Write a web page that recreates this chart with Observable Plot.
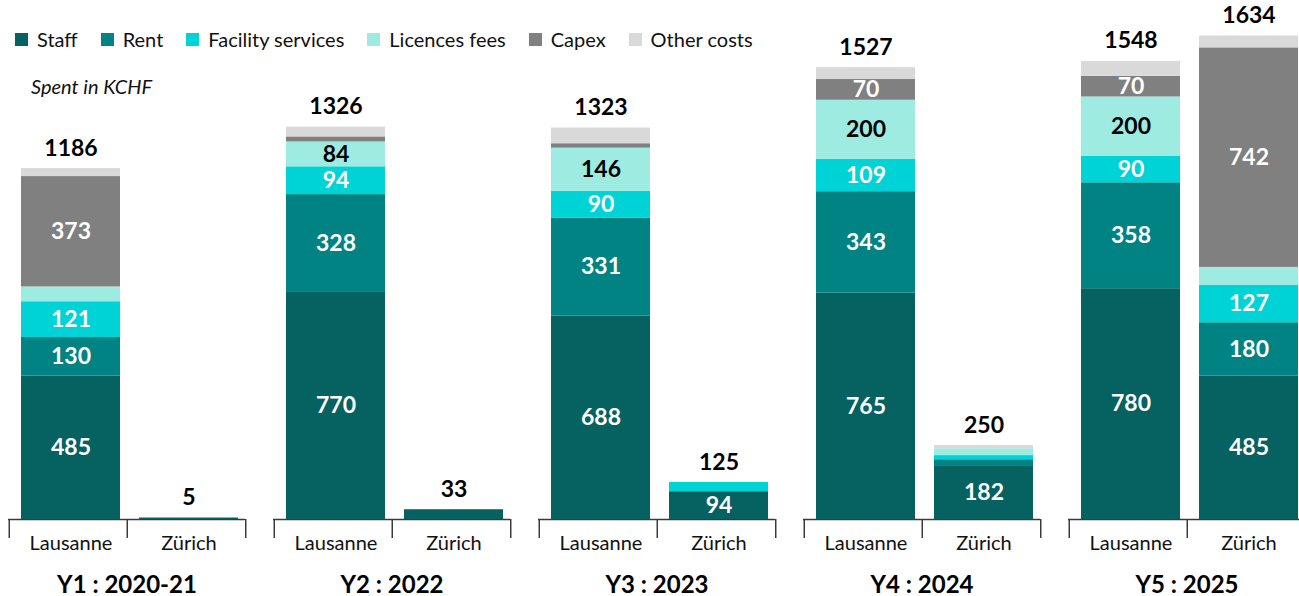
<!DOCTYPE html>
<html>
<head>
<meta charset="utf-8">
<script src="https://cdn.jsdelivr.net/npm/d3@7"></script>
<script src="https://cdn.jsdelivr.net/npm/@observablehq/plot@0.6"></script>
<style>
  html, body { margin: 0; padding: 0; overflow: hidden; background: #fff; width: 1299px; height: 596px; }
  #wrap { position: relative; width: 1299px; height: 596px; overflow: hidden; font-family: Lato, sans-serif; }
  #chart { position: absolute; left: 0; top: 0; }
  #legend { position: absolute; left: 15px; top: 27px; }
  #sub { position: absolute; left: 31px; top: 73px; font-style: italic; font-size: 20px; line-height: 26px; color: #111; }
  .lg-swatches { font-family: Lato, sans-serif !important; font-size: 20px !important; color: #111; margin: 0 !important; min-height: 0 !important; }
  .lg-swatch { margin-right: 23px !important; }
  .lg-swatch > svg { margin-right: 9px !important; }
</style>
</head>
<body>
<div id="wrap">
  <div id="chart"></div>
  <div id="legend"></div>
  <div id="sub">Spent in KCHF</div>
</div>
<script>
// ---- data ----
const years = ["Y1 : 2020-21", "Y2 : 2022", "Y3 : 2023", "Y4 : 2024", "Y5 : 2025"];
const sites = ["Lausanne", "Zürich"];
const categories = ["Staff", "Rent", "Facility services", "Licences fees", "Capex", "Other costs"];
const colors = ["#066161", "#008382", "#00D3D6", "#9DEBE1", "#808080", "#D9D9D9"];

// order: Y1 Lausanne, Y1 Zürich, Y2 Lausanne, Y2 Zürich, ...
const staff    = [485, 5, 770, 33, 688, 94, 765, 182, 780, 485];
const rent     = [130, 0, 328, 0, 331, 0, 343, 20, 358, 180];
const facility = [121, 0, 94, 0, 90, 31, 109, 14, 90, 127];
const licences = [50, 0, 84, 0, 146, 0, 200, 23, 200, 60];
const capex    = [373, 0, 17, 0, 15, 0, 70, 0, 70, 742];
const other    = [27, 0, 33, 0, 53, 0, 40, 11, 50, 40];
const totals   = [1186, 5, 1326, 33, 1323, 125, 1527, 250, 1548, 1634];
const labelMin = 70;

// ---- tables ----
const series = [staff, rent, facility, licences, capex, other];
const rows = [];
const bars = [];
for (let i = 0; i < years.length * sites.length; i++) {
  const year = years[Math.floor(i / sites.length)];
  const site = sites[i % sites.length];
  bars.push({year, site, total: totals[i]});
  categories.forEach((category, k) => {
    const value = series[k][i];
    if (value > 0) rows.push({year, site, category, value});
  });
}

// ---- layout ----
const W = 1313, H = 596;
const PI = 0.106, PO = 0.03;
const step = W / (years.length - PI + 2 * PO);
const bw = step * (1 - PI) / sites.length;   // width of one site band
const inL = 12, inR = 7, shift = (inL - inR) / 2;
const labelFont = 23;

const chart = Plot.plot({
  width: W,
  height: H,
  marginTop: 16,
  marginBottom: 77,
  marginLeft: 0,
  marginRight: 0,
  style: {fontFamily: "Lato, sans-serif", maxWidth: "none", overflow: "visible", background: "transparent"},
  fx: {domain: years, paddingInner: PI, paddingOuter: PO, axis: null, label: null},
  x: {domain: sites, padding: 0, axis: null},
  y: {domain: [0, 1700], axis: null},
  color: {domain: categories, range: colors},
  marks: [
    Plot.ruleY([0], {stroke: "#3a3a3a", strokeWidth: 1.5}),
    Plot.ruleX(sites, {x: d => d, y1: () => 0, y2: () => 0, insetBottom: -19, dx: -bw / 2, stroke: "#3a3a3a", strokeWidth: 1.5}),
    Plot.ruleX([sites[sites.length - 1]], {x: d => d, y1: () => 0, y2: () => 0, insetBottom: -19, dx: bw / 2, stroke: "#3a3a3a", strokeWidth: 1.5}),
    Plot.barY(rows, {fx: "year", x: "site", y: "value", fill: "category", insetLeft: inL, insetRight: inR}),
    Plot.text(rows, Plot.stackY({
      fx: "year", x: "site", y: "value",
      text: d => (d.value >= labelMin && d.category !== "Licences fees") ? String(d.value) : null,
      fill: "white", fontSize: labelFont, fontWeight: "bold", dx: shift
    })),
    Plot.text(rows, Plot.stackY({
      fx: "year", x: "site", y: "value",
      text: d => (d.value >= labelMin && d.category === "Licences fees") ? String(d.value) : null,
      fill: "black", fontSize: labelFont, fontWeight: "bold", dx: shift
    })),
    Plot.text(bars, {
      fx: "year", x: "site", y: "total", text: d => String(d.total),
      lineAnchor: "bottom", dy: -13, dx: shift,
      fill: "black", fontSize: labelFont, fontWeight: "bold"
    }),
    Plot.text(bars, {
      fx: "year", x: "site", y: () => 0, text: "site",
      dy: 24, dx: shift, fill: "#111", fontSize: 20
    }),
    Plot.text(years, {
      fx: d => d, text: d => d, frameAnchor: "bottom",
      dy: 73, fill: "black", fontSize: 24, fontWeight: "bold",
      style: "letter-spacing: 1px"
    })
  ]
});
document.getElementById("chart").appendChild(chart);

const legend = Plot.legend({
  color: {domain: categories, range: colors},
  legend: "swatches",
  swatchSize: 13,
  className: "lg"
});
document.getElementById("legend").appendChild(legend);
</script>
</body>
</html>
